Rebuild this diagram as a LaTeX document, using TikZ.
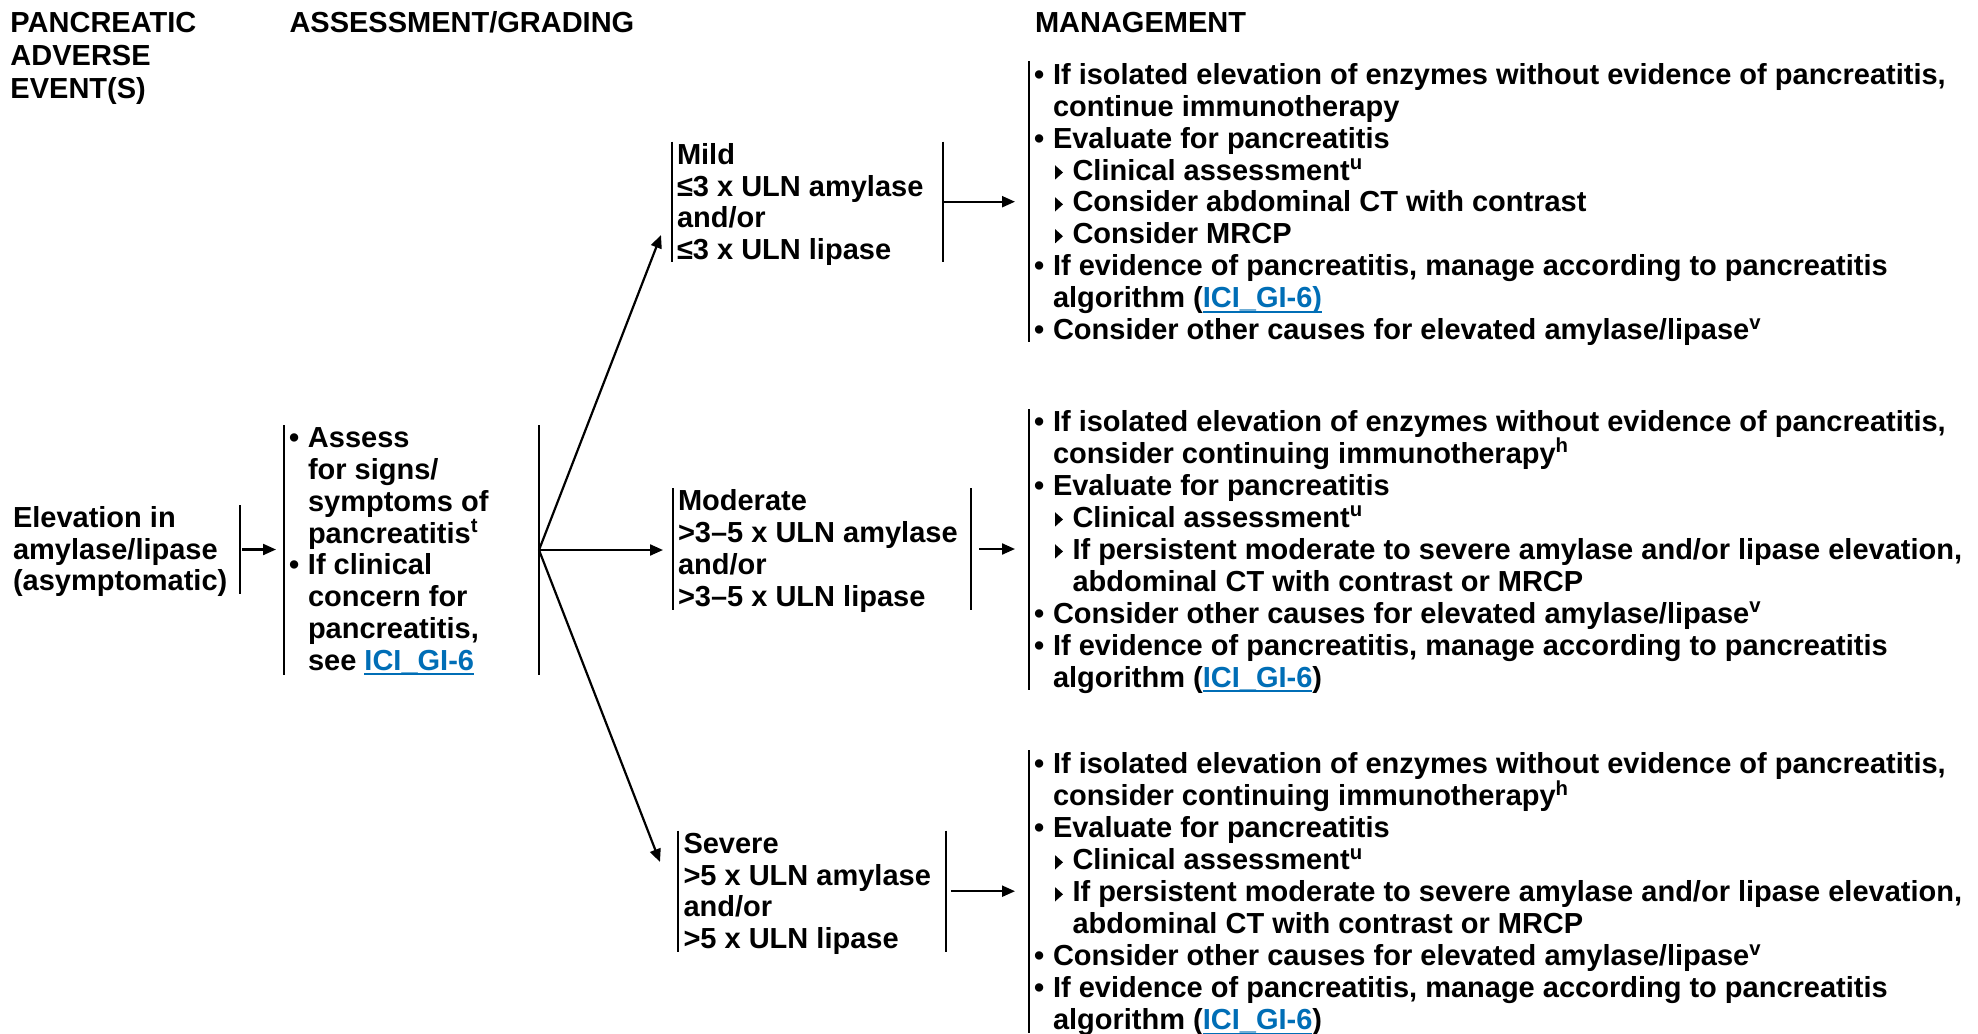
\documentclass[tikz,border=0pt]{standalone}
\usepackage{fontspec}
\setmainfont{Liberation Sans}
\usetikzlibrary{arrows.meta,fit}
\definecolor{linkblue}{RGB}{0,110,182}
\newsavebox\lnkbox
\newcommand\lnk[1]{\sbox\lnkbox{\color{linkblue}#1}{\color{linkblue}\rlap{\rule[-2.5pt]{\wd\lnkbox}{1pt}}}\usebox\lnkbox}
\newcommand\fst{\vrule height .7\baselineskip width 0pt\relax}
\newcommand\bu{\makebox[9.5pt][l]{•}}
\newcommand\ind{\hspace*{9.5pt}}
\newcommand\tri{\tikz[baseline=0pt]\fill (0pt,0.2pt) -- (0pt,7.4pt) -- (4pt,3.8pt) -- cycle;}
\newcommand\sbu{\makebox[19.25pt][l]{\hspace*{10.5pt}\tri}}
\newcommand\sind{\hspace*{19.25pt}}
\newcommand\sups[1]{\textsuperscript{#1}}
\newcommand\gfont[1]{\fontsize{14.5pt}{#1pt}\selectfont\bfseries}
\tikzset{
  txt/.style={anchor=north west, inner sep=0pt, outer sep=0pt, align=left},
  frame/.style={rectangle, draw=none, inner sep=0pt, outer sep=0pt},
  bar/.style={line width=1.3pt},
  arr/.style={line width=1.1pt, -{Triangle[length=6.5pt,width=5.5pt]}},
}
\begin{document}
\begin{tikzpicture}[x=0.5pt,y=-0.5pt]
\fill[white] (0,0) rectangle (1978,1034);
\useasboundingbox (0,0) rectangle (1978,1034);

% headers
\node[txt, font=\gfont{16.4}] (hA) at (10.5,10) {\fst PANCREATIC\\ADVERSE\\EVENT(S)};
\node[txt, font=\gfont{16.4}] (hB) at (289.5,10) {\fst ASSESSMENT/GRADING};
\node[txt, font=\gfont{16.4}] (hC) at (1035,10) {\fst MANAGEMENT};

% frames
\node[frame, fit={(10,505) (240,594)}] (elevF) {};
\node[frame, fit={(284,425) (539,675)}] (assessF) {};
\node[frame, fit={(672,141.7) (943,261.7)}] (mildF) {};
\node[frame, fit={(673,488) (971,610)}] (modF) {};
\node[frame, fit={(678,830.7) (946,951.7)}] (sevF) {};
\node[frame, fit={(1029,61) (1975,342)}] (mg1F) {};
\node[frame, fit={(1029,409) (1975,690)}] (mg2F) {};
\node[frame, fit={(1029,750) (1975,1033)}] (mg3F) {};

% bars
\draw[bar] (elevF.north east) -- (elevF.south east);
\draw[bar] (assessF.north west) -- (assessF.south west);
\draw[bar] (assessF.north east) -- (assessF.south east);
\draw[bar] (mildF.north west) -- (mildF.south west);
\draw[bar] (mildF.north east) -- (mildF.south east);
\draw[bar] (modF.north west) -- (modF.south west);
\draw[bar] (modF.north east) -- (modF.south east);
\draw[bar] (sevF.north west) -- (sevF.south west);
\draw[bar] (sevF.north east) -- (sevF.south east);
\draw[bar] (mg1F.north west) -- (mg1F.south west);
\draw[bar] (mg2F.north west) -- (mg2F.south west);
\draw[bar] (mg3F.north west) -- (mg3F.south west);

% texts
\node[txt, font=\gfont{15.75}] (elevT) at (13,505.65)
  {\fst Elevation in\\amylase/lipase\\(asymptomatic)};
\node[txt, font=\gfont{15.9}] (assessT) at (289,425.4)
  {\fst\bu Assess\\\ind for signs/\\\ind symptoms of\\\ind pancreatitis\sups{t}\\
   \bu If clinical\\\ind concern for\\\ind pancreatitis,\\\ind see \lnk{ICI\_GI-6}};
\node[txt, font=\gfont{15.9}] (mildT) at (677,142)
  {\fst Mild\\≤3 x ULN amylase\\and/or\\≤3 x ULN lipase};
\node[txt, font=\gfont{15.9}] (modT) at (678,488.4)
  {\fst Moderate\\>3–5 x ULN amylase\\and/or\\>3–5 x ULN lipase};
\node[txt, font=\gfont{15.9}] (sevT) at (683.5,831)
  {\fst Severe\\>5 x ULN amylase\\and/or\\>5 x ULN lipase};

\node[txt, font=\gfont{15.95}] (mg1T) at (1034,62)
  {\fst\bu If isolated elevation of enzymes without evidence of pancreatitis,\\
   \ind continue immunotherapy\\
   \bu Evaluate for pancreatitis\\
   \sbu Clinical assessment\sups{u}\\
   \sbu Consider abdominal CT with contrast\\
   \sbu Consider MRCP\\
   \bu If evidence of pancreatitis, manage according to pancreatitis\\
   \ind algorithm (\lnk{ICI\_GI-6)}\\
   \bu Consider other causes for elevated amylase/lipase\sups{v}};
\node[txt, font=\gfont{16}] (mg2T) at (1034,408.6)
  {\fst\bu If isolated elevation of enzymes without evidence of pancreatitis,\\
   \ind consider continuing immunotherapy\sups{h}\\
   \bu Evaluate for pancreatitis\\
   \sbu Clinical assessment\sups{u}\\
   \sbu If persistent moderate to severe amylase and/or lipase elevation,\\
   \sind abdominal CT with contrast or MRCP\\
   \bu Consider other causes for elevated amylase/lipase\sups{v}\\
   \bu If evidence of pancreatitis, manage according to pancreatitis\\
   \ind algorithm (\lnk{ICI\_GI-6})};
\node[txt, font=\gfont{16}] (mg3T) at (1034,751.5)
  {\fst\bu If isolated elevation of enzymes without evidence of pancreatitis,\\
   \ind consider continuing immunotherapy\sups{h}\\
   \bu Evaluate for pancreatitis\\
   \sbu Clinical assessment\sups{u}\\
   \sbu If persistent moderate to severe amylase and/or lipase elevation,\\
   \sind abdominal CT with contrast or MRCP\\
   \bu Consider other causes for elevated amylase/lipase\sups{v}\\
   \bu If evidence of pancreatitis, manage according to pancreatitis\\
   \ind algorithm (\lnk{ICI\_GI-6})};

% connectors
\coordinate (mildIn) at (661,235);
\coordinate (sevIn) at (660,862);
\draw[arr, shorten <=1pt, shorten >=4pt] (elevF.east) -- (elevF.east -| assessF.west);
\draw[arr] (assessF.east) -- (mildIn);
\draw[arr, shorten >=5pt] (assessF.east) -- (assessF.east -| modF.west);
\draw[arr] (assessF.east) -- (sevIn);
\draw[arr, shorten >=7pt] (mildF.east) -- (mildF.east -| mg1F.west);
\draw[arr, shorten <=4pt, shorten >=7pt] (modF.east) -- (modF.east -| mg2F.west);
\draw[arr, shorten <=2.4pt, shorten >=7pt] (sevF.east) -- (sevF.east -| mg3F.west);
\end{tikzpicture}
\end{document}
